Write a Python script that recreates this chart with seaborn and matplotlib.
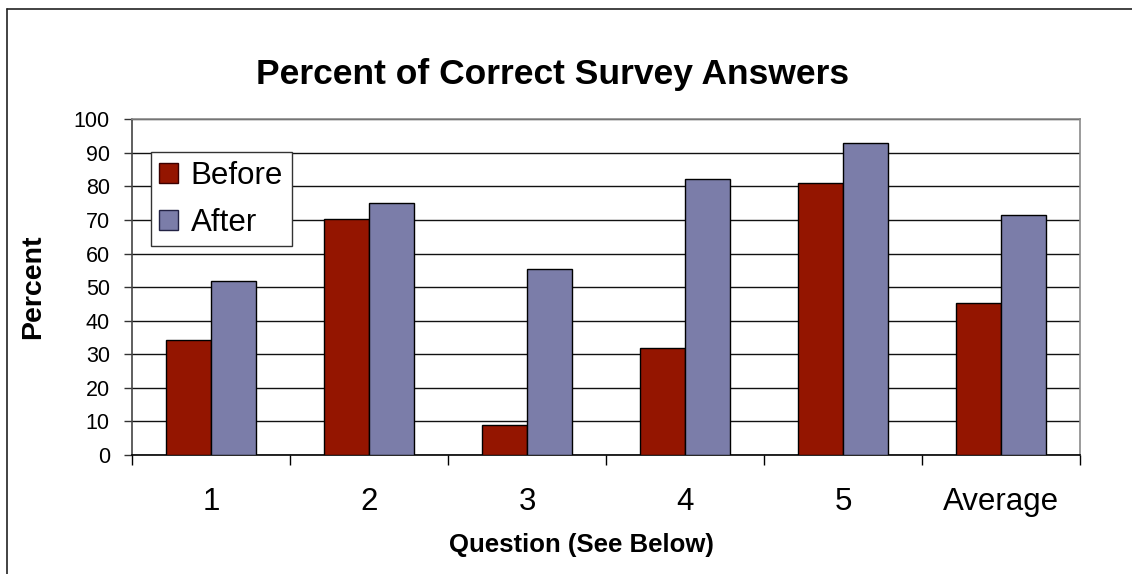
import matplotlib
matplotlib.use("Agg")
import matplotlib.pyplot as plt
import matplotlib.patches as mpatches
from matplotlib.lines import Line2D
import numpy as np
import pandas as pd
import seaborn as sns

# Survey results: percent of correct answers per question
questions = ["1", "2", "3", "4", "5", "Average"]
before = [34.3, 70.3, 8.8, 31.8, 81.0, 45.2]
after = [51.9, 75.0, 55.5, 82.1, 92.8, 71.5]
series = ["Before", "After"]
colors = ["#941500", "#7b7da9"]
yticks = [0, 10, 20, 30, 40, 50, 60, 70, 80, 90, 100]

df = pd.DataFrame({
    "Question": questions * 2,
    "Percent": before + after,
    "When": [series[0]] * len(questions) + [series[1]] * len(questions),
})

sns.set_theme(style="white")
plt.rcParams["font.family"] = ["Liberation Sans", "DejaVu Sans"]
plt.rcParams["text.color"] = "black"
plt.rcParams["xtick.color"] = "black"
plt.rcParams["ytick.color"] = "black"
plt.rcParams["axes.labelcolor"] = "black"

W, H = 1132, 574
fig = plt.figure(figsize=(W / 100, H / 100), dpi=100)
fig.patch.set_facecolor("white")
ax = fig.add_axes([132 / W, 1 - 455 / H, (1080 - 132) / W, (455 - 119.3) / H])

sns.barplot(
    data=df, x="Question", y="Percent", hue="When",
    order=questions, hue_order=series, palette=colors,
    width=0.57, edgecolor="black", linewidth=1.0,
    saturation=1.0, legend=False, ax=ax, zorder=3,
)

ax.set_xlim(-0.5, len(questions) - 0.5)
ax.set_ylim(0, 100)
ax.set_yticks(yticks)
ax.set_yticklabels([str(t) for t in yticks], fontsize=15.5)
ax.yaxis.grid(True, color="#111111", linewidth=1.0, zorder=0)
ax.set_axisbelow(True)

# category labels under the bars, dividers between categories
ax.set_xticks(range(len(questions)))
ax.set_xticklabels(questions, fontsize=22.5)
ax.tick_params(axis="x", which="major", length=0, pad=23)
ax.set_xticks(np.arange(-0.5, len(questions)), minor=True)
ax.tick_params(axis="x", which="minor", length=7.5, width=1, color="black",
               direction="out", bottom=True)
ax.tick_params(axis="y", length=6, width=1, color="#333333", direction="out",
               left=True, pad=10)

ax.set_xlabel("")
ax.set_ylabel("")

for side in ["top", "right"]:
    ax.spines[side].set_visible(True)
    ax.spines[side].set_color("#8a8a8a")
    ax.spines[side].set_linewidth(1.2)
ax.spines["left"].set_color("#444444")
ax.spines["left"].set_linewidth(1.2)
ax.spines["bottom"].set_color("black")
ax.spines["bottom"].set_linewidth(1.2)

handles = [mpatches.Patch(facecolor=c, edgecolor="#3a0000" if i == 0 else "#222244",
                          linewidth=1.0, label=s)
           for i, (s, c) in enumerate(zip(series, colors))]
leg = ax.legend(handles=handles, loc="upper left", bbox_to_anchor=(0.0197, 0.9017),
                borderaxespad=0, fontsize=22.5, frameon=True, fancybox=False,
                edgecolor="#333333", framealpha=1, handlelength=0.6,
                handleheight=0.6, handletextpad=0.4, labelspacing=0.53,
                borderpad=0.28)
leg.get_frame().set_linewidth(1.0)
leg.set_zorder(5)
for t in leg.get_texts():
    t.set_color("black")

fig.text(553 / W, 1 - 74 / H, "Percent of Correct Survey Answers",
         ha="center", va="center", fontsize=25.5, fontweight="bold")
fig.text(581 / W, 1 - 545 / H, "Question (See Below)",
         ha="center", va="center", fontsize=18.5, fontweight="bold")
fig.text(33 / W, 1 - 287 / H, "Percent", rotation=90,
         ha="center", va="center", fontsize=20.5, fontweight="bold")

# outer chart frame
fig.add_artist(Line2D([7 / W, 7 / W], [0, 1 - 8.5 / H], transform=fig.transFigure,
                      color="#222222", linewidth=1.2))
fig.add_artist(Line2D([7 / W, 1], [1 - 8.5 / H, 1 - 8.5 / H], transform=fig.transFigure,
                      color="#222222", linewidth=1.2))

fig.savefig("out.png", dpi=100, facecolor="white")
